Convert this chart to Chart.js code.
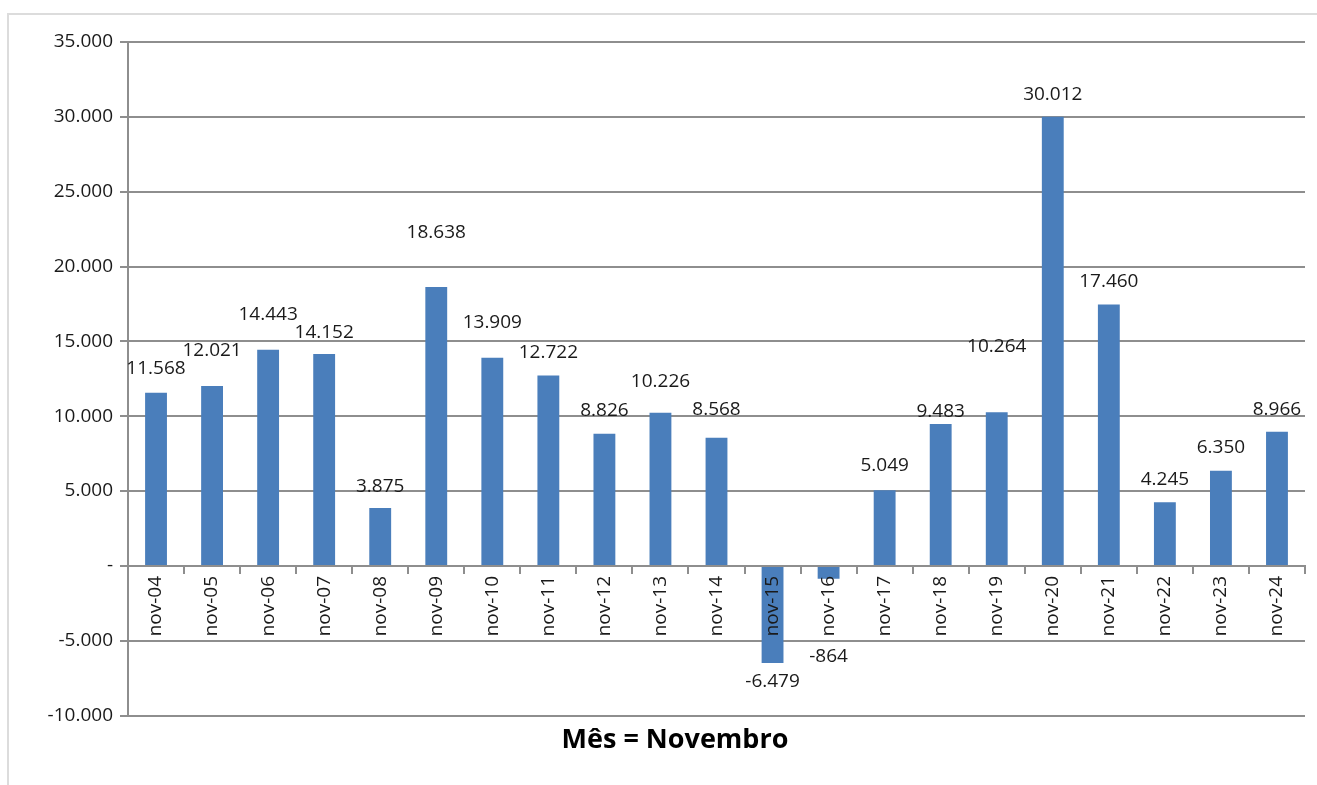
<!DOCTYPE html>
<html>
<head>
<meta charset="utf-8">
<script src="https://cdn.jsdelivr.net/npm/chart.js@4/dist/chart.umd.min.js"></script>
<style>
  html, body { margin: 0; padding: 0; background: #ffffff; overflow: hidden; }
  #wrap { position: relative; width: 1317px; height: 785px; }
  #frame { position: absolute; left: 7px; top: 13px; width: 1330px; height: 800px;
           border-left: 2px solid #dcdcdc; border-top: 2px solid #dcdcdc; box-sizing: border-box; }
  #c { position: absolute; left: 0; top: 0; }
</style>
</head>
<body>
<div id="wrap">
  <div id="frame"></div>
  <canvas id="c" width="1317" height="785"></canvas>
</div>
<script>
// ---- data ----
const categories = ['nov-04','nov-05','nov-06','nov-07','nov-08','nov-09','nov-10','nov-11','nov-12','nov-13','nov-14',
                    'nov-15','nov-16','nov-17','nov-18','nov-19','nov-20','nov-21','nov-22','nov-23','nov-24'];
const saldo = [11568, 12021, 14443, 14152, 3875, 18638, 13909, 12722, 8826, 10226, 8568,
               -6479, -864, 5049, 9483, 10264, 30012, 17460, 4245, 6350, 8966];
const yTicks = [-10000, -5000, 0, 5000, 10000, 15000, 20000, 25000, 30000, 35000];
const chartTitle = 'Mês = Novembro';

// ---- label styling (distance of value label from bar end, px) ----
const labelGap = [24, 35, 35, 21, 21, 54, 35, 23, 23, 31, 28,
                  19, 78, 25, 12, 66, 22, 23, 23, 23, 22];

const FONT = '"Open Sans", "DejaVu Sans", sans-serif';
const TXT = '#1a1a1a';
const GRID = '#8e8e8e';

function fmt(v) {
  if (v === 0) return '-';
  const neg = v < 0;
  const s = String(Math.abs(Math.round(v))).replace(/\B(?=(\d{3})+(?!\d))/g, '.');
  return (neg ? '-' : '') + s;
}

const valueLabels = {
  id: 'valueLabels',
  afterDatasetsDraw(chart) {
    const ctx = chart.ctx;
    const meta = chart.getDatasetMeta(0);
    ctx.save();
    ctx.font = '19px ' + FONT;
    ctx.fillStyle = TXT;
    ctx.textAlign = 'center';
    ctx.textBaseline = 'middle';
    meta.data.forEach((bar, i) => {
      const v = saldo[i];
      const y = v >= 0 ? bar.y - labelGap[i] : bar.y + labelGap[i];
      ctx.fillText(fmt(v), bar.x, y);
    });
    ctx.restore();
  }
};

new Chart(document.getElementById('c'), {
  type: 'bar',
  data: {
    labels: categories,
    datasets: [{
      data: saldo,
      backgroundColor: '#4a7ebb',
      borderWidth: 0,
      barPercentage: 0.39,
      categoryPercentage: 1.0
    }]
  },
  options: {
    responsive: false,
    animation: false,
    events: [],
    layout: { padding: { left: 45, right: 12, top: 42, bottom: 25 } },
    plugins: {
      legend: { display: false },
      tooltip: { enabled: false },
      title: {
        display: true,
        text: chartTitle,
        position: 'bottom',
        color: '#000',
        font: { family: FONT, size: 27, weight: 'bold', lineHeight: 1.2 },
        padding: { top: 9, bottom: 3 }
      }
    },
    scales: {
      x: {
        position: { y: 0 },
        grid: { display: true, drawOnChartArea: false, drawTicks: true, tickLength: 7, color: GRID, lineWidth: 2, offset: true },
        border: { display: true, color: GRID, width: 2 },
        ticks: {
          autoSkip: false, minRotation: 90, maxRotation: 90, padding: 3,
          color: TXT, font: { family: FONT, size: 19 }, z: 1
        }
      },
      y: {
        min: -10000, max: 35000,
        afterFit(scale) { scale.width = 83; },
        afterBuildTicks(scale) { scale.ticks = yTicks.map(v => ({ value: v })); },
        grid: { color: GRID, lineWidth: 2, tickLength: 8, drawTicks: true },
        border: { display: true, color: GRID, width: 2 },
        ticks: {
          padding: 7, color: TXT, font: { family: FONT, size: 19 },
          callback: (v) => fmt(v)
        }
      }
    }
  },
  plugins: [valueLabels]
});
</script>
</body>
</html>
